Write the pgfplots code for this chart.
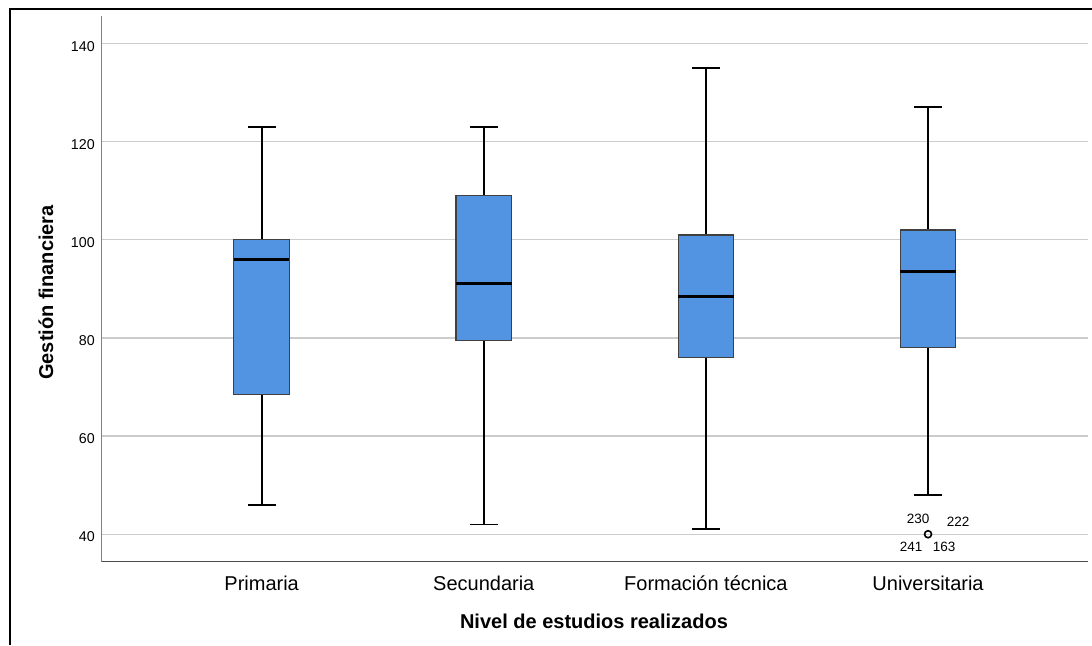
\documentclass[border=0pt]{standalone}
\usepackage{fontspec}
\setmainfont{Liberation Sans}
\usepackage{pgfplots}
\pgfplotsset{compat=1.18}
\usepgfplotslibrary{statistics}
\definecolor{boxblue}{RGB}{82,148,226}
\definecolor{gridgray}{RGB}{204,204,204}
\begin{document}
\begin{tikzpicture}
\path[use as bounding box] (0pt,0pt) rectangle (436.8pt,258pt);
\draw[line width=0.6pt] (4pt,0pt) -- (4pt,254.4pt) -- (436.8pt,254.4pt);
\begin{axis}[
  at={(40.68pt,33.32pt)}, anchor=south west,
  scale only axis, width=394.52pt, height=218.28pt,
  xmin=0.28, xmax=4.72, ymin=34.4, ymax=145.6,
  axis x line*=bottom, axis y line*=left,
  x axis line style={draw=black!70, line width=0.5pt, -},
  y axis line style={draw=black!50, line width=0.5pt, -},
  xtick={1,2,3,4},
  xticklabels={Primaria,Secundaria,Formación técnica,Universitaria},
  ytick={40,60,...,140},
  major tick length=0pt,
  ymajorgrids, grid style={draw=gridgray, line width=0.55pt},
  /pgf/number format/assume math mode=true,
  xticklabel style={font=\fontsize{8}{9.6}\selectfont, anchor=base, yshift=-11.32pt},
  yticklabel style={font=\fontsize{5.7}{6.8}\selectfont, anchor=east, inner sep=0pt, xshift=-2.6pt, yshift=-1.12pt},
  xlabel={Nivel de estudios realizados},
  xlabel style={font=\bfseries\fontsize{8}{9.6}\selectfont, at={(axis description cs:0.4991,0)}, anchor=base, yshift=-26.52pt},
  ylabel={Gestión financiera},
  ylabel style={font=\bfseries\fontsize{8}{9.6}\selectfont, at={(axis description cs:-0.04938,0.4933)}, anchor=base},
  boxplot/draw direction=y,
  boxplot/every box/.style={draw=black!75, line width=0.5pt, fill=boxblue},
  boxplot/every median/.style={draw=black, line width=1.2pt},
  boxplot/every whisker/.style={draw=black, line width=0.72pt},
  clip=false,
]
\addplot[boxplot prepared={draw position=1, lower whisker=46, lower quartile=68.5, median=96, upper quartile=100, upper whisker=123, box extend=0.25, whisker extend=0.125}] coordinates {};
\addplot[boxplot prepared={draw position=2, lower whisker=42, lower quartile=79.5, median=91, upper quartile=109, upper whisker=123, box extend=0.25, whisker extend=0.125}] coordinates {};
\addplot[boxplot prepared={draw position=3, lower whisker=41, lower quartile=76, median=88.5, upper quartile=101, upper whisker=135, box extend=0.25, whisker extend=0.125}] coordinates {};
\addplot[boxplot prepared={draw position=4, lower whisker=48, lower quartile=78, median=93.5, upper quartile=102, upper whisker=127, box extend=0.25, whisker extend=0.125}, mark=o, mark size=1.4pt, mark options={draw=black, line width=0.65pt, fill=white}] table[row sep=\\, y index=0] {y\\ 40\\};
\node[font=\fontsize{5.4}{6.4}\selectfont, xshift=-4pt, yshift=6.28pt] at (axis cs:4,40) {230};
\node[font=\fontsize{5.4}{6.4}\selectfont, xshift=12pt, yshift=5.08pt] at (axis cs:4,40) {222};
\node[font=\fontsize{5.4}{6.4}\selectfont, xshift=-6.8pt, yshift=-5.12pt] at (axis cs:4,40) {241};
\node[font=\fontsize{5.4}{6.4}\selectfont, xshift=6.4pt, yshift=-5.12pt] at (axis cs:4,40) {163};
\end{axis}
\end{tikzpicture}
\end{document}
